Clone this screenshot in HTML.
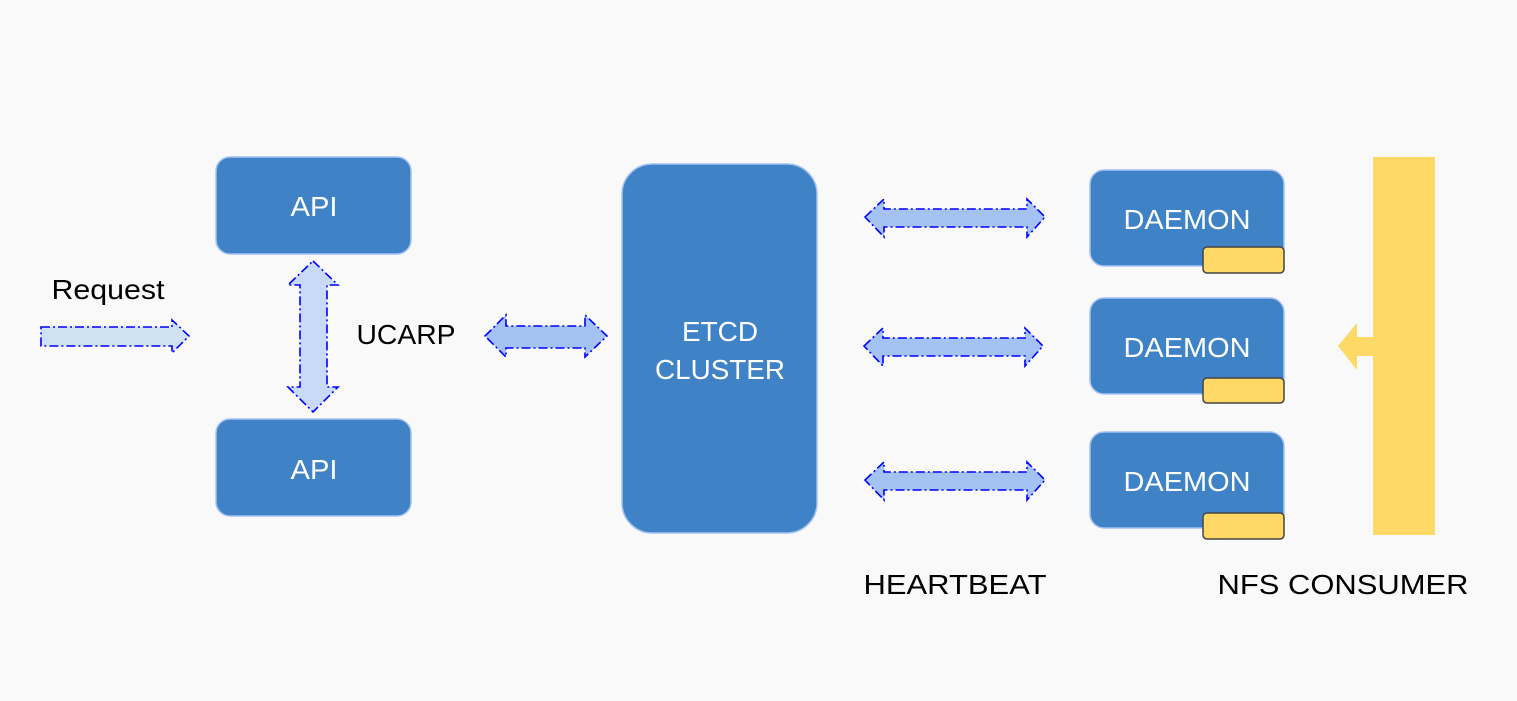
<!DOCTYPE html>
<html><head><meta charset="utf-8"><style>
html,body{margin:0;padding:0;background:#f9f9f9}
svg{display:block}
text{font-family:"Liberation Sans",sans-serif}
</style></head><body>
<svg width="1517" height="701" viewBox="0 0 1517 701" xmlns="http://www.w3.org/2000/svg">
<rect width="1517" height="701" fill="#f9f9f9"/>
<g fill="#3f83c6" stroke="#a4c2f4" stroke-width="1.5">
<rect x="216" y="157" width="195" height="97" rx="14"/>
<rect x="216" y="419" width="195" height="97" rx="14"/>
<rect x="622" y="164" width="195" height="369" rx="30"/>
<rect x="1090" y="170" width="194" height="96" rx="14"/>
<rect x="1090" y="298" width="194" height="96" rx="14"/>
<rect x="1090" y="432" width="194" height="96" rx="14"/>
</g>
<g fill="#ffd966" stroke="#444" stroke-width="1.5">
<rect x="1203" y="247" width="81" height="26" rx="4"/>
<rect x="1203" y="378" width="81" height="25" rx="4"/>
<rect x="1203" y="513" width="81" height="26" rx="4"/>
</g>
<rect x="1373" y="157" width="62" height="378" fill="#ffd966"/>
<polygon points="1338,346 1357,323 1357,337 1373,337 1373,356 1357,356 1357,370" fill="#ffd966"/>
<g stroke="#0000ff" stroke-width="1.6" stroke-dasharray="9,3,2,3">
<polygon fill="#cfe2f3" points="41,327 172,327 172,320 189,336 172,353 172,346 41,346"/>
<polygon fill="#c9daf8" points="313,261 338,285 327,285 327,387 338,387 313,412 288,387 300,387 300,285 288,285"/>
<polygon fill="#a4c2f4" points="485,336 506,315 506,326 585,326 585,315 607,336 585,357 585,348 506,348 506,357"/>
<polygon fill="#a4c2f4" points="865,217 884,199 884,209 1027,209 1027,199 1045,217 1027,237 1027,227 884,227 884,237"/>
<polygon fill="#a4c2f4" points="864,346 883,328 883,338 1025,338 1025,328 1043,346 1025,366 1025,356 883,356 883,366"/>
<polygon fill="#a4c2f4" points="865,480 884,462 884,472 1027,472 1027,462 1045,480 1027,500 1027,490 884,490 884,500"/>
</g>
<g fill="#fff" font-size="28" text-anchor="middle" lengthAdjust="spacingAndGlyphs">
<text x="314" y="216" textLength="47" lengthAdjust="spacingAndGlyphs">API</text>
<text x="314" y="479" textLength="47" lengthAdjust="spacingAndGlyphs">API</text>
<text x="720" y="341" textLength="76" lengthAdjust="spacingAndGlyphs">ETCD</text>
<text x="720" y="379" textLength="130" lengthAdjust="spacingAndGlyphs">CLUSTER</text>
<text x="1187" y="229" textLength="127" lengthAdjust="spacingAndGlyphs">DAEMON</text>
<text x="1187" y="357" textLength="127" lengthAdjust="spacingAndGlyphs">DAEMON</text>
<text x="1187" y="491" textLength="127" lengthAdjust="spacingAndGlyphs">DAEMON</text>
</g>
<g fill="#000" font-size="28" text-anchor="middle">
<text x="108" y="299" textLength="113" lengthAdjust="spacingAndGlyphs">Request</text>
<text x="406" y="344" textLength="99" lengthAdjust="spacingAndGlyphs">UCARP</text>
<text x="955" y="594" textLength="183" lengthAdjust="spacingAndGlyphs">HEARTBEAT</text>
<text x="1343" y="594" textLength="251" lengthAdjust="spacingAndGlyphs">NFS CONSUMER</text>
</g>
</svg>
</body></html>
